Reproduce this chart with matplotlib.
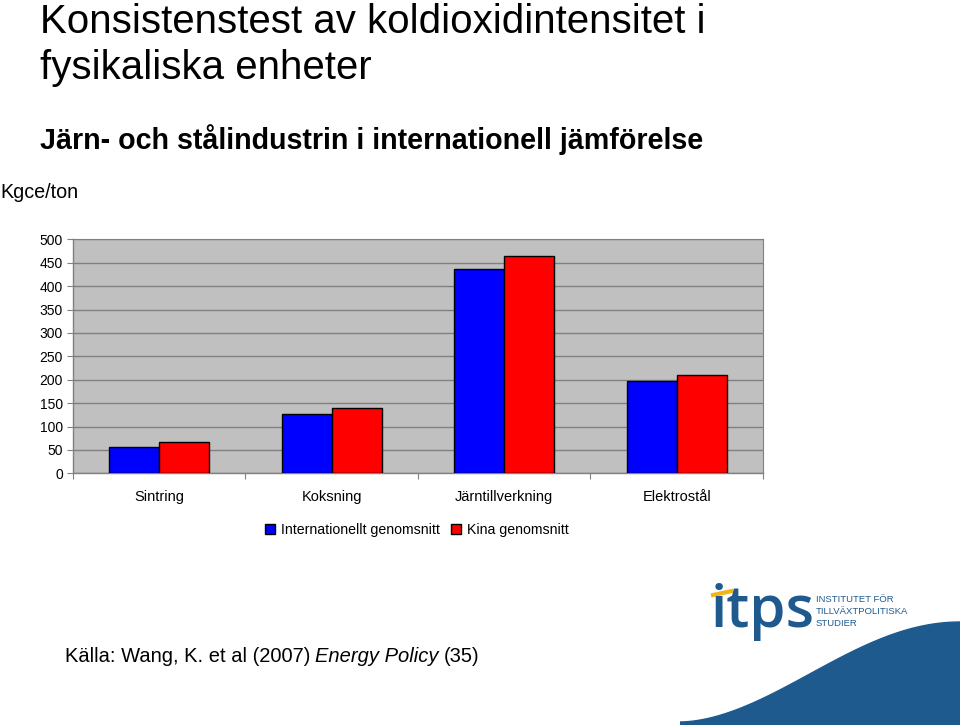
import matplotlib.pyplot as plt
import numpy as np
from matplotlib.patches import Polygon

categories = ['Sintring', 'Koksning', 'Järntillverkning', 'Elektrostål']
intl_avg = [57, 127, 437, 198]
china_avg = [66, 140, 464, 209]
series_names = ['Internationellt genomsnitt', 'Kina genomsnitt']
yticks = [0, 50, 100, 150, 200, 250, 300, 350, 400, 450, 500]

plt.rcParams['font.family'] = ['Liberation Sans', 'DejaVu Sans']

fig = plt.figure(figsize=(9.6, 7.25), dpi=100)

# titles
fig.text(40/960, 1 - 22/725, 'Konsistenstest av koldioxidintensitet i',
         fontsize=29, va='center', ha='left')
fig.text(40/960, 1 - 68/725, 'fysikaliska enheter',
         fontsize=29, va='center', ha='left')
fig.text(40/960, 1 - 140/725, 'Järn- och stålindustrin i internationell jämförelse',
         fontsize=20.6, fontweight='bold', va='center', ha='left')
fig.text(0, 1 - 193/725, 'Kgce/ton', fontsize=14.2, va='center', ha='left')

# chart
ax = fig.add_axes([72.7/960, 251.7/725, 690.3/960, 234/725])
x = np.arange(len(categories))
w = 0.29
b1 = ax.bar(x - w/2, intl_avg, w, color='#0000ff', edgecolor='black', linewidth=1, label=series_names[0], zorder=3)
b2 = ax.bar(x + w/2, china_avg, w, color='#ff0000', edgecolor='black', linewidth=1, label=series_names[1], zorder=3)

ax.set_facecolor('#c0c0c0')
ax.set_xlim(-0.5, len(categories) - 0.5)
ax.set_ylim(0, 500)
ax.set_yticks(yticks)
ax.yaxis.grid(True, color='#808080', linewidth=1, zorder=0)
ax.set_xticks(np.arange(len(categories) + 1) - 0.5)
ax.set_xticklabels([])
ax.set_xticks(x, minor=True)
ax.set_xticklabels(categories, minor=True, fontsize=10.5)
ax.tick_params(axis='x', which='minor', length=0, pad=12)
ax.tick_params(axis='x', which='major', length=4, color='#808080')
ax.tick_params(axis='y', length=4, color='#808080', labelsize=10, pad=3)
for s in ['top', 'right']:
    ax.spines[s].set_color('#808080')
    ax.spines[s].set_linewidth(0.8)
for s in ['left', 'bottom']:
    ax.spines[s].set_color('#808080')
    ax.spines[s].set_linewidth(1)

fig.legend(handles=[b1, b2], labels=series_names, loc='center',
           bbox_to_anchor=(417/960, 1 - 530/725), ncol=2, frameon=False, fontsize=10.2,
           handlelength=0.7, handleheight=0.7, handletextpad=0.4, columnspacing=0.8)

# source, pieces placed one after another
renderer = fig.canvas.get_renderer()
xpos = 65
for txt, st in [('Källa: Wang, K. et al (2007)', 'normal'), ('Energy Policy', 'italic'), ('(35)', 'normal')]:
    t = fig.text(xpos/960, 1 - 657/725, txt, fontsize=14.5, style=st, va='center', ha='left')
    xpos += t.get_window_extent(renderer).width + 5

# logo approximation
lax = fig.add_axes([680/960, 0, 280/960, 155/725])
lax.set_xlim(0, 280)
lax.set_ylim(155, 0)
lax.axis('off')
xs = np.linspace(0, 280, 60)
top = 152 - 100 * (0.5 - 0.5 * np.cos(np.pi * xs / 280)) ** 0.9
pts = list(zip(xs, top)) + [(280, 155), (0, 155)]
lax.add_patch(Polygon(pts, closed=True, color='#1f5a8f'))
lax.plot([33, 52], [25, 21], color='#f2b418', linewidth=3)
lax.text(31, 42, 'itps', fontsize=42, color='#1f5a8f', va='center', ha='left',
         fontweight='semibold', family=['Open Sans', 'DejaVu Sans'])
lax.text(136, 25, 'INSTITUTET FÖR\nTILLVÄXTPOLITISKA\nSTUDIER', fontsize=6.8, color='#1f5a8f',
         va='top', ha='left', linespacing=1.4)

fig.savefig('out.png', dpi=100)
